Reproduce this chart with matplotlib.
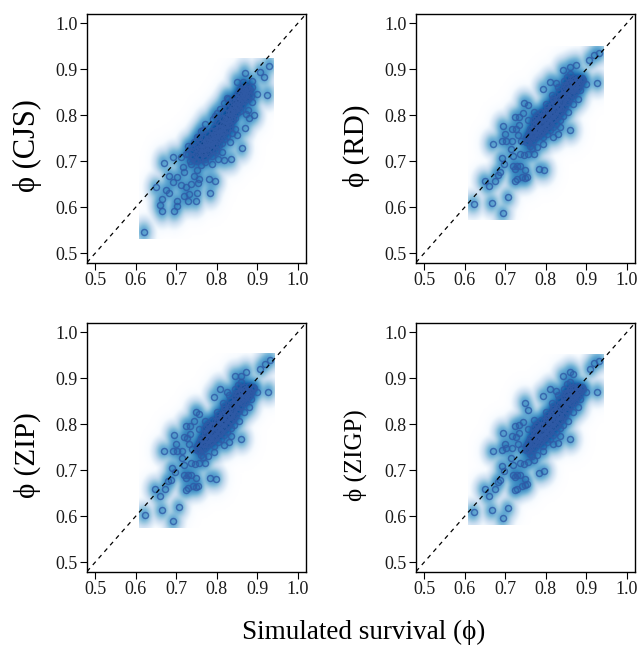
import numpy as np
import matplotlib
matplotlib.use('Agg')
import matplotlib.pyplot as plt
from matplotlib.colors import LinearSegmentedColormap

plt.rcParams['font.family'] = ['Liberation Serif', 'DejaVu Serif']

# ---------------- data ----------------
panel_names = ["CJS", "RD", "ZIP", "ZIGP"]
tick_vals = [0.5, 0.6, 0.7, 0.8, 0.9, 1.0]
tick_labels = ["0.5", "0.6", "0.7", "0.8", "0.9", "1.0"]

cjs_pts = [
    (0.621, 0.547), (0.650, 0.643), (0.669, 0.697), (0.693, 0.709), (0.674, 0.638),
    (0.683, 0.632), (0.664, 0.618), (0.660, 0.605), (0.666, 0.592), (0.695, 0.592),
    (0.703, 0.603), (0.702, 0.614), (0.683, 0.669), (0.691, 0.654), (0.703, 0.665),
    (0.711, 0.709), (0.728, 0.733), (0.720, 0.625), (0.728, 0.614), (0.732, 0.629),
    (0.748, 0.614), (0.751, 0.631), (0.724, 0.643), (0.736, 0.651), (0.711, 0.649),
    (0.754, 0.653), (0.757, 0.662), (0.781, 0.662), (0.795, 0.658), (0.784, 0.632),
    (0.720, 0.676), (0.744, 0.669), (0.752, 0.680), (0.716, 0.687), (0.736, 0.694),
    (0.761, 0.691), (0.771, 0.698), (0.787, 0.694), (0.802, 0.705), (0.818, 0.702),
    (0.835, 0.705), (0.798, 0.720), (0.814, 0.720), (0.861, 0.728), (0.833, 0.742),
    (0.851, 0.758), (0.869, 0.772), (0.872, 0.803), (0.892, 0.801), (0.888, 0.829),
    (0.899, 0.847), (0.925, 0.845), (0.929, 0.908), (0.907, 0.894), (0.917, 0.883),
    (0.869, 0.891), (0.849, 0.873), (0.864, 0.873), (0.886, 0.874), (0.880, 0.858),
    (0.809, 0.814), (0.795, 0.798), (0.827, 0.836), (0.880, 0.793), (0.876, 0.812),
    (0.857, 0.810), (0.840, 0.789), (0.831, 0.781), (0.837, 0.761), (0.844, 0.770),
    (0.730, 0.715), (0.735, 0.700), (0.740, 0.722), (0.742, 0.708), (0.745, 0.728),
    (0.748, 0.716), (0.750, 0.700), (0.752, 0.735), (0.755, 0.720), (0.758, 0.708),
    (0.760, 0.742), (0.762, 0.726), (0.765, 0.715), (0.767, 0.750), (0.768, 0.732),
    (0.770, 0.720), (0.772, 0.705), (0.774, 0.745), (0.776, 0.730), (0.778, 0.760),
    (0.779, 0.718), (0.781, 0.740), (0.783, 0.752), (0.785, 0.728), (0.787, 0.765),
    (0.788, 0.712), (0.790, 0.745), (0.792, 0.735), (0.794, 0.775), (0.795, 0.755),
    (0.797, 0.725), (0.799, 0.768), (0.801, 0.745), (0.803, 0.785), (0.804, 0.760),
    (0.806, 0.735), (0.808, 0.772), (0.810, 0.752), (0.812, 0.795), (0.813, 0.740),
    (0.815, 0.780), (0.817, 0.765), (0.819, 0.748), (0.821, 0.805), (0.822, 0.788),
    (0.824, 0.770), (0.826, 0.755), (0.828, 0.815), (0.830, 0.798), (0.832, 0.780),
    (0.834, 0.822), (0.836, 0.805), (0.838, 0.790), (0.840, 0.832), (0.842, 0.812),
    (0.844, 0.795), (0.846, 0.840), (0.848, 0.822), (0.850, 0.805), (0.852, 0.848),
    (0.854, 0.830), (0.856, 0.815), (0.858, 0.855), (0.860, 0.838), (0.862, 0.822),
    (0.864, 0.860), (0.866, 0.845), (0.868, 0.830), (0.870, 0.852), (0.872, 0.838),
    (0.874, 0.862), (0.876, 0.848), (0.878, 0.835), (0.882, 0.855), (0.885, 0.842),
    (0.888, 0.862), (0.772, 0.782), (0.760, 0.765), (0.750, 0.752), (0.745, 0.742),
    (0.790, 0.792), (0.800, 0.805), (0.818, 0.826), (0.826, 0.838), (0.757, 0.753),
    (0.737, 0.731), (0.725, 0.716), (0.766, 0.767),
]

cjs_core = [
    (0.741, 0.712), (0.746, 0.703), (0.753, 0.726), (0.756, 0.712), (0.759, 0.731),
    (0.763, 0.719), (0.766, 0.738), (0.769, 0.709), (0.771, 0.728), (0.773, 0.741),
    (0.775, 0.722), (0.777, 0.748), (0.780, 0.733), (0.782, 0.716), (0.784, 0.745),
    (0.786, 0.737), (0.789, 0.756), (0.791, 0.724), (0.793, 0.748), (0.796, 0.762),
    (0.798, 0.738), (0.800, 0.757), (0.802, 0.771), (0.805, 0.748), (0.807, 0.764),
    (0.809, 0.781), (0.811, 0.758), (0.814, 0.773), (0.816, 0.791), (0.818, 0.762),
    (0.820, 0.779), (0.823, 0.796), (0.825, 0.768), (0.827, 0.786), (0.829, 0.806),
    (0.831, 0.792), (0.833, 0.774), (0.835, 0.812), (0.837, 0.797), (0.839, 0.818),
    (0.841, 0.802), (0.843, 0.826), (0.845, 0.811), (0.847, 0.831), (0.849, 0.816),
    (0.851, 0.836), (0.853, 0.821), (0.855, 0.842), (0.857, 0.827), (0.859, 0.846),
    (0.861, 0.832), (0.863, 0.851), (0.865, 0.837), (0.867, 0.856), (0.869, 0.842),
    (0.871, 0.860), (0.873, 0.846), (0.877, 0.858), (0.879, 0.845), (0.766, 0.726),
    (0.779, 0.741), (0.793, 0.757), (0.806, 0.772), (0.821, 0.790), (0.834, 0.806),
    (0.847, 0.823), (0.787, 0.742), (0.799, 0.751), (0.812, 0.765), (0.825, 0.779),
]

rd_pts = [
    (0.622, 0.608), (0.667, 0.609), (0.694, 0.587), (0.706, 0.622), (0.649, 0.658),
    (0.659, 0.646), (0.674, 0.658), (0.681, 0.671), (0.686, 0.676), (0.692, 0.707),
    (0.696, 0.694), (0.669, 0.738), (0.692, 0.744), (0.702, 0.744), (0.716, 0.744),
    (0.694, 0.776), (0.700, 0.760), (0.714, 0.727), (0.718, 0.711), (0.720, 0.689),
    (0.724, 0.683), (0.729, 0.689), (0.737, 0.689), (0.723, 0.658), (0.729, 0.662),
    (0.741, 0.665), (0.749, 0.663), (0.753, 0.665), (0.749, 0.682), (0.737, 0.716),
    (0.747, 0.713), (0.757, 0.715), (0.771, 0.716), (0.784, 0.683), (0.796, 0.681),
    (0.716, 0.771), (0.724, 0.796), (0.735, 0.796), (0.747, 0.827), (0.757, 0.822),
    (0.745, 0.805), (0.757, 0.789), (0.771, 0.807), (0.794, 0.858), (0.811, 0.873),
    (0.824, 0.869), (0.842, 0.898), (0.852, 0.884), (0.860, 0.905), (0.874, 0.909),
    (0.893, 0.876), (0.899, 0.868), (0.926, 0.870), (0.907, 0.920), (0.920, 0.931),
    (0.930, 0.935), (0.860, 0.767), (0.854, 0.807), (0.868, 0.825), (0.880, 0.836),
    (0.868, 0.854), (0.885, 0.854), (0.844, 0.847), (0.819, 0.833), (0.811, 0.793),
    (0.799, 0.774), (0.794, 0.738), (0.778, 0.731), (0.819, 0.753), (0.836, 0.774),
    (0.829, 0.760), (0.726, 0.770), (0.731, 0.757), (0.740, 0.745), (0.735, 0.778),
    (0.760, 0.733), (0.765, 0.728),
    (0.750, 0.742), (0.755, 0.758), (0.758, 0.748), (0.762, 0.770), (0.765, 0.755),
    (0.768, 0.745), (0.770, 0.775), (0.772, 0.762), (0.774, 0.750), (0.776, 0.785),
    (0.778, 0.768), (0.780, 0.755), (0.782, 0.790), (0.784, 0.775), (0.786, 0.760),
    (0.788, 0.798), (0.790, 0.782), (0.792, 0.768), (0.794, 0.752), (0.796, 0.805),
    (0.798, 0.790), (0.800, 0.775), (0.802, 0.760), (0.804, 0.812), (0.806, 0.798),
    (0.808, 0.782), (0.810, 0.768), (0.812, 0.820), (0.814, 0.805), (0.816, 0.790),
    (0.818, 0.775), (0.820, 0.828), (0.822, 0.812), (0.824, 0.798), (0.826, 0.782),
    (0.828, 0.835), (0.830, 0.820), (0.832, 0.805), (0.834, 0.790), (0.836, 0.842),
    (0.838, 0.828), (0.840, 0.812), (0.842, 0.798), (0.844, 0.850), (0.846, 0.835),
    (0.848, 0.820), (0.850, 0.862), (0.852, 0.842), (0.854, 0.828), (0.856, 0.870),
    (0.858, 0.852), (0.860, 0.838), (0.862, 0.878), (0.864, 0.860), (0.866, 0.845),
    (0.868, 0.880), (0.870, 0.865), (0.872, 0.850), (0.875, 0.872), (0.878, 0.858),
    (0.880, 0.882), (0.883, 0.868), (0.886, 0.875), (0.890, 0.880), (0.778, 0.800),
    (0.770, 0.790), (0.800, 0.825), (0.815, 0.845), (0.830, 0.862), (0.845, 0.875),
    (0.860, 0.890),
]

rd_core = [
    (0.752, 0.751), (0.756, 0.741), (0.759, 0.762), (0.763, 0.748), (0.766, 0.768),
    (0.769, 0.757), (0.771, 0.781), (0.773, 0.768), (0.775, 0.757), (0.777, 0.779),
    (0.779, 0.764), (0.781, 0.785), (0.783, 0.769), (0.785, 0.792), (0.787, 0.778),
    (0.789, 0.763), (0.791, 0.795), (0.793, 0.781), (0.795, 0.769), (0.797, 0.798),
    (0.799, 0.784), (0.801, 0.806), (0.803, 0.792), (0.805, 0.777), (0.807, 0.811),
    (0.809, 0.797), (0.811, 0.782), (0.813, 0.814), (0.815, 0.799), (0.817, 0.822),
    (0.819, 0.807), (0.821, 0.791), (0.823, 0.826), (0.825, 0.812), (0.827, 0.797),
    (0.829, 0.829), (0.831, 0.815), (0.833, 0.838), (0.835, 0.822), (0.837, 0.808),
    (0.839, 0.845), (0.841, 0.829), (0.843, 0.815), (0.845, 0.856), (0.847, 0.842),
    (0.849, 0.828), (0.851, 0.849), (0.853, 0.866), (0.855, 0.836), (0.857, 0.859),
    (0.859, 0.872), (0.861, 0.847), (0.863, 0.868), (0.865, 0.855), (0.867, 0.874),
    (0.869, 0.859), (0.871, 0.876), (0.873, 0.862), (0.876, 0.866), (0.879, 0.874),
    (0.882, 0.862), (0.885, 0.870), (0.775, 0.795), (0.788, 0.808), (0.803, 0.818),
    (0.818, 0.838), (0.833, 0.852), (0.848, 0.866), (0.790, 0.770), (0.806, 0.786),
    (0.821, 0.803), (0.836, 0.816),
]

zip_pts = [
    (0.622, 0.603), (0.665, 0.613), (0.693, 0.589), (0.706, 0.620), (0.648, 0.659),
    (0.659, 0.645), (0.673, 0.659), (0.679, 0.676), (0.686, 0.678), (0.690, 0.705),
    (0.696, 0.696), (0.669, 0.741), (0.692, 0.742), (0.702, 0.742), (0.715, 0.742),
    (0.694, 0.776), (0.700, 0.758), (0.714, 0.727), (0.718, 0.711), (0.720, 0.690),
    (0.724, 0.684), (0.729, 0.690), (0.737, 0.690), (0.723, 0.657), (0.729, 0.662),
    (0.741, 0.666), (0.749, 0.664), (0.753, 0.666), (0.749, 0.683), (0.737, 0.716),
    (0.747, 0.714), (0.757, 0.715), (0.771, 0.716), (0.784, 0.683), (0.797, 0.682),
    (0.720, 0.773), (0.724, 0.797), (0.735, 0.797), (0.748, 0.827), (0.756, 0.822),
    (0.745, 0.806), (0.757, 0.790), (0.771, 0.808), (0.794, 0.860), (0.807, 0.876),
    (0.824, 0.870), (0.844, 0.904), (0.852, 0.886), (0.860, 0.905), (0.872, 0.913),
    (0.893, 0.878), (0.899, 0.870), (0.926, 0.871), (0.907, 0.920), (0.918, 0.931),
    (0.930, 0.939), (0.860, 0.767), (0.854, 0.808), (0.868, 0.826), (0.880, 0.837),
    (0.868, 0.855), (0.885, 0.855), (0.844, 0.848), (0.819, 0.834), (0.811, 0.794),
    (0.799, 0.775), (0.794, 0.739), (0.778, 0.732), (0.819, 0.754), (0.836, 0.775),
    (0.829, 0.761), (0.726, 0.771), (0.731, 0.758), (0.740, 0.746), (0.735, 0.779),
    (0.760, 0.734), (0.765, 0.729),
    (0.750, 0.743), (0.755, 0.759), (0.758, 0.749), (0.762, 0.771), (0.765, 0.756),
    (0.768, 0.746), (0.770, 0.776), (0.772, 0.763), (0.774, 0.751), (0.776, 0.786),
    (0.778, 0.769), (0.780, 0.756), (0.782, 0.791), (0.784, 0.776), (0.786, 0.761),
    (0.788, 0.799), (0.790, 0.783), (0.792, 0.769), (0.794, 0.753), (0.796, 0.806),
    (0.798, 0.791), (0.800, 0.776), (0.802, 0.761), (0.804, 0.813), (0.806, 0.799),
    (0.808, 0.783), (0.810, 0.769), (0.812, 0.821), (0.814, 0.806), (0.816, 0.791),
    (0.818, 0.776), (0.820, 0.829), (0.822, 0.813), (0.824, 0.799), (0.826, 0.783),
    (0.828, 0.836), (0.830, 0.821), (0.832, 0.806), (0.834, 0.791), (0.836, 0.843),
    (0.838, 0.829), (0.840, 0.813), (0.842, 0.799), (0.844, 0.851), (0.846, 0.836),
    (0.848, 0.821), (0.850, 0.863), (0.852, 0.843), (0.854, 0.829), (0.856, 0.871),
    (0.858, 0.853), (0.860, 0.839), (0.862, 0.879), (0.864, 0.861), (0.866, 0.846),
    (0.868, 0.881), (0.870, 0.866), (0.872, 0.851), (0.875, 0.873), (0.878, 0.859),
    (0.880, 0.883), (0.883, 0.869), (0.886, 0.876), (0.890, 0.881), (0.778, 0.801),
    (0.770, 0.791), (0.800, 0.826), (0.815, 0.846), (0.830, 0.863), (0.845, 0.876),
    (0.860, 0.891),
]

zip_core = [
    (0.752, 0.752), (0.756, 0.742), (0.759, 0.763), (0.763, 0.749), (0.766, 0.769),
    (0.769, 0.758), (0.771, 0.782), (0.773, 0.769), (0.775, 0.758), (0.777, 0.780),
    (0.779, 0.765), (0.781, 0.786), (0.783, 0.770), (0.785, 0.793), (0.787, 0.779),
    (0.789, 0.764), (0.791, 0.796), (0.793, 0.782), (0.795, 0.770), (0.797, 0.799),
    (0.799, 0.785), (0.801, 0.807), (0.803, 0.793), (0.805, 0.778), (0.807, 0.812),
    (0.809, 0.798), (0.811, 0.783), (0.813, 0.815), (0.815, 0.800), (0.817, 0.823),
    (0.819, 0.808), (0.821, 0.792), (0.823, 0.827), (0.825, 0.813), (0.827, 0.798),
    (0.829, 0.830), (0.831, 0.816), (0.833, 0.839), (0.835, 0.823), (0.837, 0.809),
    (0.839, 0.846), (0.841, 0.830), (0.843, 0.816), (0.845, 0.857), (0.847, 0.843),
    (0.849, 0.829), (0.851, 0.850), (0.853, 0.867), (0.855, 0.837), (0.857, 0.860),
    (0.859, 0.873), (0.861, 0.848), (0.863, 0.869), (0.865, 0.856), (0.867, 0.875),
    (0.869, 0.860), (0.871, 0.877), (0.873, 0.863), (0.876, 0.867), (0.879, 0.875),
    (0.882, 0.863), (0.885, 0.871), (0.775, 0.796), (0.788, 0.809), (0.803, 0.819),
    (0.818, 0.839), (0.833, 0.853), (0.848, 0.867), (0.790, 0.771), (0.806, 0.787),
    (0.821, 0.804), (0.836, 0.817),
]

zigp_pts = [
    (0.622, 0.609), (0.667, 0.613), (0.694, 0.596), (0.706, 0.618), (0.649, 0.660),
    (0.659, 0.644), (0.674, 0.660), (0.681, 0.674), (0.686, 0.678), (0.692, 0.710),
    (0.696, 0.698), (0.669, 0.741), (0.692, 0.745), (0.702, 0.748), (0.716, 0.748),
    (0.694, 0.782), (0.700, 0.758), (0.714, 0.727), (0.718, 0.711), (0.720, 0.690),
    (0.724, 0.686), (0.729, 0.690), (0.737, 0.690), (0.723, 0.658), (0.729, 0.660),
    (0.741, 0.666), (0.749, 0.668), (0.753, 0.670), (0.749, 0.682), (0.737, 0.716),
    (0.747, 0.713), (0.757, 0.718), (0.771, 0.722), (0.784, 0.694), (0.796, 0.699),
    (0.716, 0.774), (0.724, 0.796), (0.735, 0.799), (0.749, 0.847), (0.756, 0.830),
    (0.745, 0.805), (0.757, 0.790), (0.771, 0.810), (0.794, 0.862), (0.811, 0.876),
    (0.824, 0.872), (0.842, 0.904), (0.852, 0.888), (0.859, 0.914), (0.868, 0.909),
    (0.893, 0.876), (0.899, 0.870), (0.926, 0.871), (0.908, 0.920), (0.919, 0.933),
    (0.930, 0.938), (0.860, 0.767), (0.854, 0.808), (0.868, 0.826), (0.880, 0.837),
    (0.868, 0.855), (0.885, 0.855), (0.844, 0.848), (0.819, 0.834), (0.811, 0.794),
    (0.799, 0.775), (0.794, 0.741), (0.778, 0.734), (0.819, 0.756), (0.836, 0.775),
    (0.829, 0.760), (0.726, 0.772), (0.731, 0.758), (0.740, 0.746), (0.735, 0.780),
    (0.760, 0.735), (0.765, 0.730),
    (0.750, 0.743), (0.755, 0.759), (0.758, 0.749), (0.762, 0.771), (0.765, 0.756),
    (0.768, 0.746), (0.770, 0.776), (0.772, 0.763), (0.774, 0.751), (0.776, 0.786),
    (0.778, 0.769), (0.780, 0.756), (0.782, 0.791), (0.784, 0.776), (0.786, 0.761),
    (0.788, 0.799), (0.790, 0.783), (0.792, 0.769), (0.794, 0.753), (0.796, 0.806),
    (0.798, 0.791), (0.800, 0.776), (0.802, 0.761), (0.804, 0.813), (0.806, 0.799),
    (0.808, 0.783), (0.810, 0.769), (0.812, 0.821), (0.814, 0.806), (0.816, 0.791),
    (0.818, 0.776), (0.820, 0.829), (0.822, 0.813), (0.824, 0.799), (0.826, 0.783),
    (0.828, 0.836), (0.830, 0.821), (0.832, 0.806), (0.834, 0.791), (0.836, 0.843),
    (0.838, 0.829), (0.840, 0.813), (0.842, 0.799), (0.844, 0.851), (0.846, 0.836),
    (0.848, 0.821), (0.850, 0.863), (0.852, 0.843), (0.854, 0.829), (0.856, 0.871),
    (0.858, 0.853), (0.860, 0.839), (0.862, 0.879), (0.864, 0.861), (0.866, 0.846),
    (0.868, 0.881), (0.870, 0.866), (0.872, 0.851), (0.875, 0.873), (0.878, 0.859),
    (0.880, 0.883), (0.883, 0.869), (0.886, 0.876), (0.890, 0.881), (0.778, 0.801),
    (0.770, 0.791), (0.800, 0.826), (0.815, 0.846), (0.830, 0.863), (0.845, 0.876),
    (0.860, 0.891),
]

zigp_core = [
    (0.752, 0.753), (0.756, 0.743), (0.759, 0.764), (0.763, 0.750), (0.766, 0.770),
    (0.769, 0.759), (0.771, 0.783), (0.773, 0.770), (0.775, 0.759), (0.777, 0.781),
    (0.779, 0.766), (0.781, 0.787), (0.783, 0.771), (0.785, 0.794), (0.787, 0.780),
    (0.789, 0.765), (0.791, 0.797), (0.793, 0.783), (0.795, 0.771), (0.797, 0.800),
    (0.799, 0.786), (0.801, 0.808), (0.803, 0.794), (0.805, 0.779), (0.807, 0.813),
    (0.809, 0.799), (0.811, 0.784), (0.813, 0.816), (0.815, 0.801), (0.817, 0.824),
    (0.819, 0.809), (0.821, 0.793), (0.823, 0.828), (0.825, 0.814), (0.827, 0.799),
    (0.829, 0.831), (0.831, 0.817), (0.833, 0.840), (0.835, 0.824), (0.837, 0.810),
    (0.839, 0.847), (0.841, 0.831), (0.843, 0.817), (0.845, 0.858), (0.847, 0.844),
    (0.849, 0.830), (0.851, 0.851), (0.853, 0.868), (0.855, 0.838), (0.857, 0.861),
    (0.859, 0.874), (0.861, 0.849), (0.863, 0.870), (0.865, 0.857), (0.867, 0.876),
    (0.869, 0.861), (0.871, 0.878), (0.873, 0.864), (0.876, 0.868), (0.879, 0.876),
    (0.882, 0.864), (0.885, 0.872), (0.775, 0.797), (0.788, 0.810), (0.803, 0.820),
    (0.818, 0.840), (0.833, 0.854), (0.848, 0.868), (0.790, 0.772), (0.806, 0.788),
    (0.821, 0.805), (0.836, 0.818),
]

panel_points = [cjs_pts + cjs_core, rd_pts + rd_core,
                zip_pts + zip_core, zigp_pts + zigp_core]
label_sizes = [22, 21, 21, 18]
label_x = [-0.274, -0.274, -0.274, -0.279]

# ---------------- style ----------------
blues9 = ["#F7FBFF", "#DEEBF7", "#C6DBEF", "#9ECAE1", "#6BAED6",
          "#4292C6", "#2171B5", "#08519C", "#08306B"]
cmap = LinearSegmentedColormap.from_list("smooth", ["#FFFFFF"] + blues9, N=256)


def smooth_scatter(ax, pts, nbin=128):
    x = np.array([p[0] for p in pts])
    y = np.array([p[1] for p in pts])
    bwx = np.diff(np.quantile(x, [0.05, 0.95]))[0] / 25
    bwy = np.diff(np.quantile(y, [0.05, 0.95]))[0] / 25
    gx = np.linspace(x.min() - 1.5 * bwx, x.max() + 1.5 * bwx, nbin)
    gy = np.linspace(y.min() - 1.5 * bwy, y.max() + 1.5 * bwy, nbin)
    kbx, kby = 1.15 * bwx, 1.15 * bwy
    kx = np.exp(-0.5 * ((gx[:, None] - x[None, :]) / kbx) ** 2)
    ky = np.exp(-0.5 * ((gy[:, None] - y[None, :]) / kby) ** 2)
    dens = ky @ kx.T
    z = dens ** 0.2
    hx = (gx[1] - gx[0]) / 2
    hy = (gy[1] - gy[0]) / 2
    ax.imshow(z, origin="lower", cmap=cmap, vmin=z.min(), vmax=z.max(),
              extent=[gx[0] - hx, gx[-1] + hx, gy[0] - hy, gy[-1] + hy],
              aspect="auto", interpolation="bilinear", zorder=1)
    ax.plot(x, y, linestyle="none", marker="o", markersize=4.3,
            markerfacecolor="none", markeredgecolor="#2f5aa6",
            markeredgewidth=1.05, alpha=0.8, zorder=3)


fig = plt.figure(figsize=(6.38, 6.50), dpi=100)
W, H = 638.0, 650.0
boxes = [(87, 14), (416, 14), (87, 323), (416, 323)]
aw, ah = 219.0, 248.5

for i, (left, top) in enumerate(boxes):
    ax = fig.add_axes([left / W, 1 - (top + ah) / H, aw / W, ah / H])
    smooth_scatter(ax, panel_points[i])
    ax.plot([0.48, 1.02], [0.48, 1.02], color="black", lw=0.9,
            linestyle=(0, (3.5, 3.5)), zorder=4)
    ax.set_xlim(0.48, 1.02)
    ax.set_ylim(0.48, 1.02)
    ax.set_xticks(tick_vals)
    ax.set_xticklabels(tick_labels)
    ax.set_yticks(tick_vals)
    ax.set_yticklabels(tick_labels)
    ax.tick_params(direction="out", length=5, width=0.8, labelsize=13,
                   color="black", labelcolor="#1a1a1a")
    ax.tick_params(axis="x", pad=1.5)
    ax.tick_params(axis="y", pad=1.5)
    for s in ax.spines.values():
        s.set_linewidth(1.0)
        s.set_color("black")
    ax.set_ylabel("\u03d5 (" + panel_names[i] + ")", fontsize=label_sizes[i])
    ax.yaxis.label.set_va("center")
    ax.yaxis.set_label_coords(label_x[i], 0.47)

fig.text(364 / W, 1 - 632 / H, "Simulated survival (\u03d5)", ha="center",
         va="center", fontsize=19.5)

fig.savefig("out.png", dpi=100)
